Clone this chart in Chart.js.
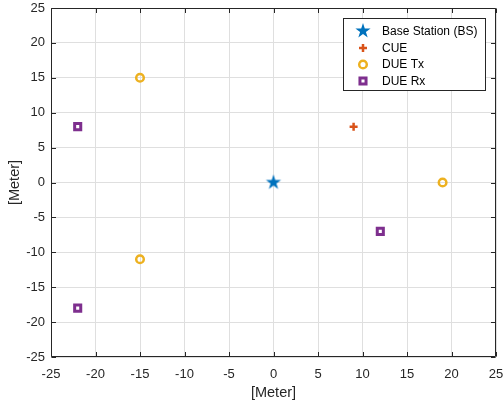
<!DOCTYPE html>
<html>
<head>
<meta charset="utf-8">
<script src="https://cdn.jsdelivr.net/npm/chart.js@4/dist/chart.umd.min.js"></script>
<style>
  html, body { margin: 0; padding: 0; background: #fff; }
  #wrap { width: 504px; height: 412px; }
</style>
</head>
<body>
<div id="wrap"><canvas id="chart" width="504" height="412"></canvas></div>
<script>
// data
const seriesNames = ['Base Station (BS)', 'CUE', 'DUE Tx', 'DUE Rx'];
const bsX = [0];
const bsY = [0];
const cueX = [9];
const cueY = [8];
const dueTxX = [-15, -15, 19];
const dueTxY = [15, -11, 0];
const dueRxX = [-22, -22, 12];
const dueRxY = [8, -18, -7];
const axisTicks = [-25, -20, -15, -10, -5, 0, 5, 10, 15, 20, 25];

const FONT = '"Liberation Sans", Arial, Helvetica, sans-serif';
const AXIS_COLOR = '#262626';

// filled pentagram like MATLAB's 'p' marker
function makeStar(color, R) {
    const c = document.createElement('canvas');
    const s = Math.ceil(R * 2 + 4);
    c.width = s; c.height = s;
    const g = c.getContext('2d');
    const r = R * 0.382;
    g.beginPath();
    for (let i = 0; i < 10; i++) {
        const rad = i % 2 === 0 ? R : r;
        const a = -Math.PI / 2 + i * Math.PI / 5;
        const px = s / 2 + rad * Math.cos(a);
        const py = s / 2 + rad * Math.sin(a);
        if (i === 0) g.moveTo(px, py); else g.lineTo(px, py);
    }
    g.closePath();
    g.fillStyle = color;
    g.fill();
    return c;
}

const toPts = (xs, ys) => xs.map((x, i) => ({ x: x, y: ys[i] }));

const datasets = [
    {
        label: seriesNames[0],
        data: toPts(bsX, bsY),
        pointStyle: makeStar('#0072BD', 8),
        pointRadius: 8,
        borderColor: '#0072BD',
        backgroundColor: '#0072BD',
        borderWidth: 0
    },
    {
        label: seriesNames[1],
        data: toPts(cueX, cueY),
        pointStyle: 'cross',
        pointRadius: 4,
        borderColor: '#D95319',
        backgroundColor: '#D95319',
        pointBorderWidth: 2.5
    },
    {
        label: seriesNames[2],
        data: toPts(dueTxX, dueTxY),
        pointStyle: 'circle',
        pointRadius: 3.8,
        borderColor: '#EDB120',
        backgroundColor: 'rgba(0,0,0,0)',
        pointBorderWidth: 2.5
    },
    {
        label: seriesNames[3],
        data: toPts(dueRxX, dueRxY),
        pointStyle: 'rect',
        pointRadius: 4.3,
        borderColor: '#7E2F8E',
        backgroundColor: 'rgba(0,0,0,0)',
        pointBorderWidth: 3
    }
];

// box, inner ticks and legend drawn after the datasets
const boxPlugin = {
    id: 'matlabBox',
    afterDraw(chart) {
        const ctx = chart.ctx;
        const a = chart.chartArea;
        const xs = chart.scales.x, ys = chart.scales.y;
        ctx.save();
        ctx.strokeStyle = AXIS_COLOR;
        ctx.lineWidth = 1;
        ctx.beginPath();
        const L = Math.round(a.left) + 0.5, R = Math.round(a.right) - 0.5;
        const T = Math.round(a.top) + 0.5, B = Math.round(a.bottom) - 0.5;
        ctx.rect(L, T, R - L, B - T);
        const tl = 4.5;
        axisTicks.forEach(v => {
            const px = Math.round(xs.getPixelForValue(v)) + 0.5;
            ctx.moveTo(px, B); ctx.lineTo(px, B - tl);
            ctx.moveTo(px, T); ctx.lineTo(px, T + tl);
            const py = Math.round(ys.getPixelForValue(v)) + 0.5;
            ctx.moveTo(L, py); ctx.lineTo(L + tl, py);
            ctx.moveTo(R, py); ctx.lineTo(R - tl, py);
        });
        ctx.stroke();

        // legend
        const lx = 343.5, ly = 18.5, lw = 142, lh = 72;
        ctx.fillStyle = '#ffffff';
        ctx.fillRect(lx, ly, lw, lh);
        ctx.strokeRect(lx, ly, lw, lh);
        const rowY = [31, 48, 64.5, 81];
        ctx.font = '12px ' + FONT;
        ctx.textBaseline = 'middle';
        ctx.textAlign = 'left';
        chart.data.datasets.forEach((ds, i) => {
            ctx.save();
            ctx.strokeStyle = ds.borderColor;
            ctx.fillStyle = ds.backgroundColor;
            ctx.lineWidth = ds.pointBorderWidth || 0;
            Chart.helpers.drawPoint(ctx, {
                pointStyle: ds.pointStyle,
                radius: ds.pointRadius,
                rotation: 0,
                borderWidth: ds.pointBorderWidth || 0
            }, 363, rowY[i]);
            ctx.restore();
            ctx.fillStyle = '#000000';
            ctx.fillText(ds.label, 382, rowY[i] + 0.5);
        });
        ctx.restore();
    }
};

const gridOpts = {
    color: '#dfdfdf',
    lineWidth: 1,
    drawTicks: false
};

new Chart(document.getElementById('chart').getContext('2d'), {
    type: 'scatter',
    data: { datasets: datasets },
    options: {
        responsive: false,
        animation: false,
        layout: { padding: { left: 0, top: 5, right: 7, bottom: 10 } },
        plugins: {
            legend: { display: false },
            tooltip: { enabled: false }
        },
        scales: {
            x: {
                type: 'linear',
                min: -25, max: 25,
                grid: gridOpts,
                border: { display: false },
                ticks: {
                    stepSize: 5,
                    padding: 10,
                    color: AXIS_COLOR,
                    font: { family: FONT, size: 13 },
                    maxRotation: 0
                },
                title: {
                    display: true,
                    text: '[Meter]',
                    color: AXIS_COLOR,
                    font: { family: FONT, size: 14.5 },
                    padding: { top: 0, bottom: 0 }
                },
                afterFit(scale) {
                    scale.height = 45;
                    scale.paddingLeft = 0;
                    scale.paddingRight = 0;
                }
            },
            y: {
                type: 'linear',
                min: -25, max: 25,
                grid: gridOpts,
                border: { display: false },
                ticks: {
                    stepSize: 5,
                    padding: 6,
                    color: AXIS_COLOR,
                    font: { family: FONT, size: 13 }
                },
                title: {
                    display: true,
                    text: '[Meter]',
                    color: AXIS_COLOR,
                    font: { family: FONT, size: 14.5 },
                    padding: { top: 6, bottom: 0 }
                },
                afterFit(scale) {
                    scale.width = 51;
                    scale.paddingTop = 0;
                    scale.paddingBottom = 0;
                }
            }
        }
    },
    plugins: [boxPlugin]
});
</script>
</body>
</html>
